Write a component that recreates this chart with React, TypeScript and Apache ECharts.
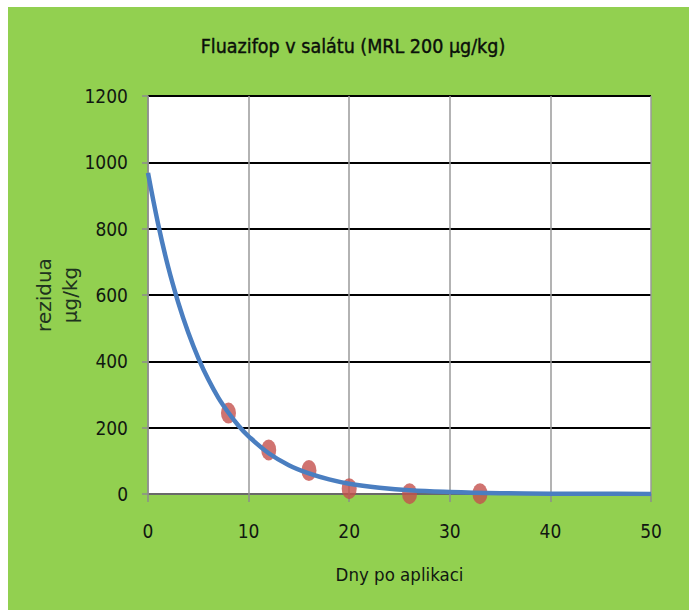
import React, { useEffect, useRef } from "react";
import * as echarts from "echarts";

const titleText = "Fluazifop v salátu (MRL 200 µg/kg)";
const xAxisName = "Dny po aplikaci";
const yAxisName = "rezidua\nµg/kg";

// measured residues
const days = [8, 12, 16, 20, 26, 33];
const residues = [244, 133, 71, 16, 1, 1];

// fitted curve
const fitDays = [0, 1, 2, 3, 4, 5, 6, 7, 8, 9, 10, 12, 14, 16, 18, 20, 23, 26, 30, 35, 40, 45, 50];
const fitValues = [968, 815, 685, 578, 487, 410, 345, 290, 245, 206, 174, 123, 87, 62, 44, 31, 19, 11, 6, 2.5, 1, 0.5, 0.2];

const FONT = "'DejaVu Sans Condensed', 'Liberation Sans', sans-serif";
const TEXT = "#111811";

export default function App() {
  const ref = useRef<HTMLDivElement>(null);
  useEffect(() => {
    if (!ref.current) return;
    const chart = echarts.init(ref.current, null, { renderer: "svg" });
    chart.setOption({
      animation: false,
      backgroundColor: "#92D050",
      title: {
        text: titleText,
        left: 340,
        top: 24,
        textAlign: "center",
        textStyle: { fontFamily: FONT, fontSize: 19.5, fontWeight: "normal", color: "#0a0f0a", textBorderColor: "#0a0f0a", textBorderWidth: 0.4 },
      },
      grid: {
        left: 140,
        right: 38,
        top: 89,
        height: 398,
        show: true,
        backgroundColor: "#ffffff",
        borderWidth: 0,
      },
      xAxis: {
        type: "value",
        min: 0,
        max: 50,
        interval: 10,
        name: xAxisName,
        nameLocation: "middle",
        nameGap: 71,
        nameMoveOverlap: false,
        nameTextStyle: { fontFamily: FONT, fontSize: 18.5, color: TEXT },
        axisLine: { show: true, lineStyle: { color: "#8c8c8c", width: 1.5 } },
        axisTick: { show: true, length: 8, lineStyle: { color: "#8c8c8c", width: 1.5 } },
        axisLabel: { margin: 27, fontFamily: FONT, fontSize: 19, color: TEXT, formatter: (v: number) => String(v) },
        splitLine: { show: true, lineStyle: { color: "#9a9a9a", width: 1.5 } },
      },
      yAxis: {
        type: "value",
        min: 0,
        max: 1200,
        interval: 200,
        name: yAxisName,
        nameLocation: "middle",
        nameRotate: 90,
        nameGap: 65,
        nameMoveOverlap: false,
        nameTextStyle: { fontFamily: "DejaVu Sans", fontSize: 20, lineHeight: 26, color: "#1e331e", align: "center" },
        axisLine: { show: true, lineStyle: { color: "#8c8c8c", width: 1.5 } },
        axisTick: { show: true, length: 6, lineStyle: { color: "#8c8c8c", width: 1.5 } },
        axisLabel: { margin: 20, fontFamily: FONT, fontSize: 19, color: TEXT, formatter: (v: number) => String(v) },
        splitLine: { show: true, lineStyle: { color: "#000000", width: 2 } },
      },
      series: [
        {
          type: "scatter",
          data: days.map((d, i) => [d, residues[i]]),
          symbol: "path://M50,0 A50,50 0 1,1 50,100 A50,50 0 1,1 50,0 Z",
          symbolSize: [15, 21],
          itemStyle: { color: "#C4504C" },
          z: 2,
        },
        {
          type: "line",
          data: fitDays.map((d, i) => [d, fitValues[i]]),
          smooth: 0.4,
          showSymbol: false,
          symbol: "none",
          lineStyle: { color: "#4A7EC0", width: 4.5 },
          z: 3,
        },
      ],
    });
    return () => chart.dispose();
  }, []);
  return (
    <div
      ref={ref}
      style={{ position: "absolute", left: 8, top: 7, width: 681, height: 603 }}
    />
  );
}
